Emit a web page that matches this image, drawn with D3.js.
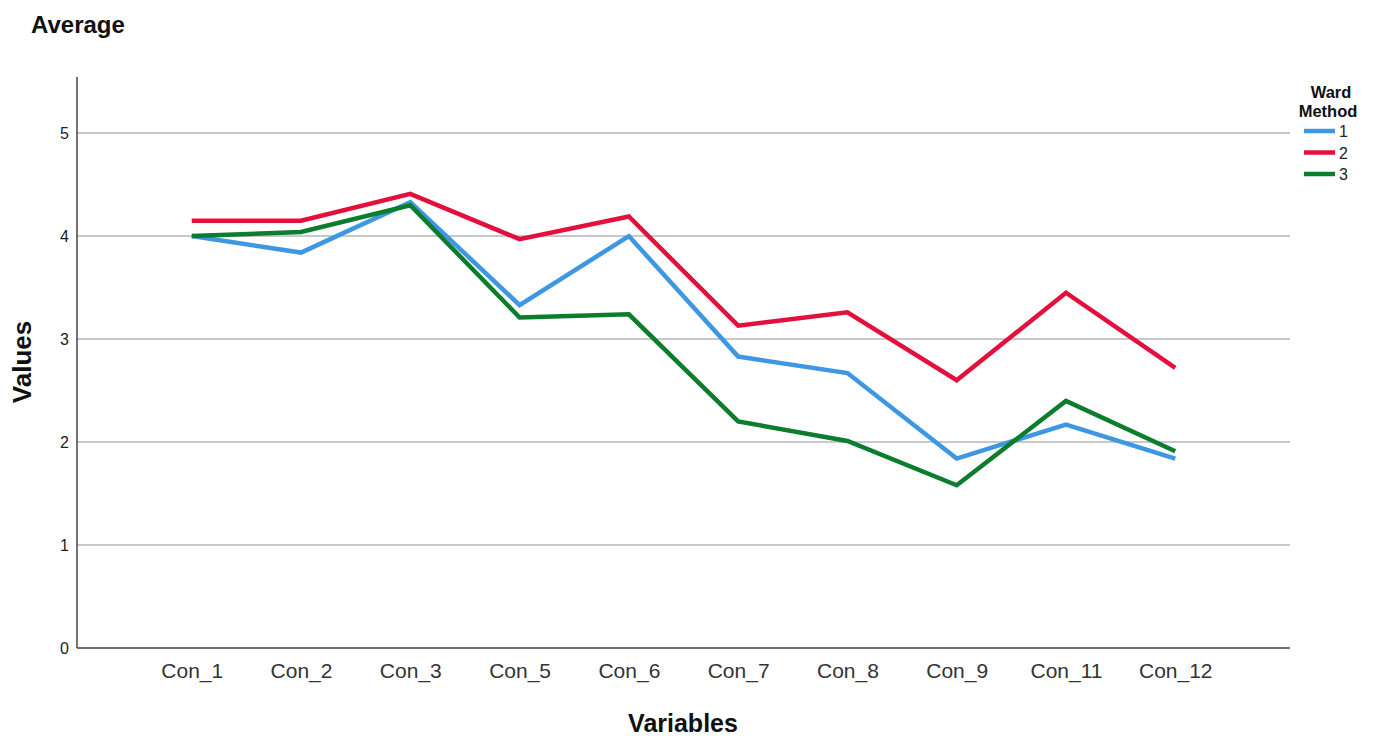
<!DOCTYPE html>
<html>
<head>
<meta charset="utf-8">
<script src="https://cdn.jsdelivr.net/npm/d3@7"></script>
<style>
  html, body { margin: 0; padding: 0; background: #fff; }
  svg { display: block; font-family: "Liberation Sans", Arial, sans-serif; }
</style>
</head>
<body>
<svg id="chart" width="1377" height="736"></svg>
<script>
const categories = ["Con_1","Con_2","Con_3","Con_5","Con_6","Con_7","Con_8","Con_9","Con_11","Con_12"];
const seriesNames = ["1","2","3"];
const series1 = [4.00, 3.84, 4.33, 3.33, 4.00, 2.83, 2.67, 1.84, 2.17, 1.84];
const series2 = [4.15, 4.15, 4.41, 3.97, 4.19, 3.13, 3.26, 2.60, 3.45, 2.72];
const series3 = [4.00, 4.04, 4.30, 3.21, 3.24, 2.20, 2.01, 1.58, 2.40, 1.91];
const yTicks = [0, 1, 2, 3, 4, 5];
const colors = ["#3d97e3", "#e3103c", "#0b7d2c"];

const svg = d3.select("#chart");
const mLeft = 77, mRight = 1290, mTop = 77, mBottom = 648;

const x = d3.scalePoint().domain(categories).range([mLeft, mRight]).padding(1.05);
const y = d3.scaleLinear().domain([0, 5.545]).range([mBottom, mTop]);

// gridlines
svg.append("g").selectAll("line").data(yTicks.filter(d => d > 0)).join("line")
  .attr("x1", mLeft).attr("x2", mRight)
  .attr("y1", d => y(d)).attr("y2", d => y(d))
  .attr("stroke", "#c8c8c8").attr("stroke-width", 2);

// y axis
const yAxis = svg.append("g").attr("transform", `translate(${mLeft},0)`)
  .call(d3.axisLeft(y).tickValues(yTicks).tickSize(0).tickPadding(8).tickFormat(d3.format("d")));
yAxis.select(".domain").remove();
yAxis.selectAll("text").attr("font-size", 16).attr("fill", "#222").attr("font-family", "Liberation Sans, Arial, sans-serif");

// x axis
const xAxis = svg.append("g").attr("transform", `translate(0,${mBottom})`)
  .call(d3.axisBottom(x).tickSize(0).tickPadding(15));
xAxis.select(".domain").remove();
xAxis.selectAll("text").attr("font-size", 21).attr("fill", "#333").attr("font-family", "Liberation Sans, Arial, sans-serif");

// axis lines
svg.append("line").attr("x1", mLeft).attr("x2", mLeft).attr("y1", mTop).attr("y2", mBottom)
  .attr("stroke", "#444").attr("stroke-width", 1.5);
svg.append("line").attr("x1", mLeft).attr("x2", mRight).attr("y1", mBottom).attr("y2", mBottom)
  .attr("stroke", "#444").attr("stroke-width", 1.5);

// lines
const allSeries = [series1, series2, series3];
const line = d3.line().x((d, i) => x(categories[i])).y(d => y(d));
svg.append("g").selectAll("path").data(allSeries).join("path")
  .attr("d", d => line(d))
  .attr("fill", "none")
  .attr("stroke", (d, i) => colors[i])
  .attr("stroke-width", 4.5)
  .attr("stroke-linejoin", "miter");

// titles
svg.append("text").attr("x", 31).attr("y", 33).text("Average")
  .attr("font-size", 24).attr("font-weight", "bold").attr("fill", "#111");
svg.append("text").attr("x", 683).attr("y", 732).attr("text-anchor", "middle").text("Variables")
  .attr("font-size", 25).attr("font-weight", "bold").attr("fill", "#111");
svg.append("text").attr("transform", "translate(31,362) rotate(-90)").attr("text-anchor", "middle").text("Values")
  .attr("font-size", 26).attr("font-weight", "bold").attr("fill", "#111");

// legend
const lg = svg.append("g");
lg.append("text").attr("x", 1331).attr("y", 98).attr("text-anchor", "middle").text("Ward")
  .attr("font-size", 16.5).attr("font-weight", "bold").attr("fill", "#111");
lg.append("text").attr("x", 1328).attr("y", 117).attr("text-anchor", "middle").text("Method")
  .attr("font-size", 16.5).attr("font-weight", "bold").attr("fill", "#111");
const items = lg.selectAll("g.item").data(seriesNames).join("g").attr("class", "item")
  .attr("transform", (d, i) => `translate(0,${131 + i * 21.5})`);
items.append("line").attr("x1", 1304).attr("x2", 1335).attr("y1", 0).attr("y2", 0)
  .attr("stroke", (d, i) => colors[i]).attr("stroke-width", 4.5);
items.append("text").attr("x", 1339).attr("y", 6).text(d => d)
  .attr("font-size", 16).attr("fill", "#222");
</script>
</body>
</html>
